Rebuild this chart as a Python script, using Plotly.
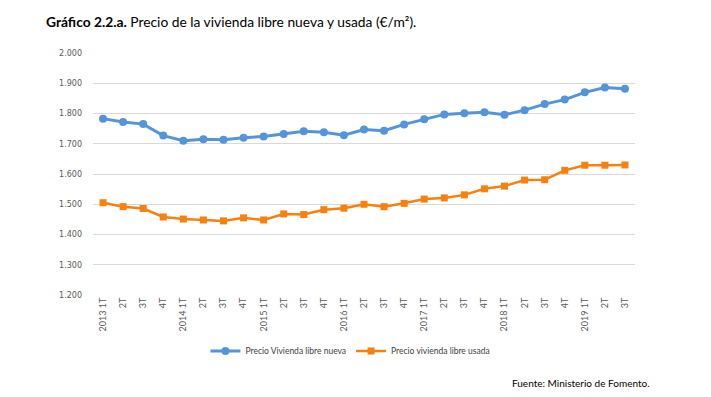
import plotly.graph_objects as go

categories = ["2013 1T", "2T", "3T", "4T",
              "2014 1T", "2T", "3T", "4T",
              "2015 1T", "2T", "3T", "4T",
              "2016 1T", "2T", "3T", "4T",
              "2017 1T", "2T", "3T", "4T",
              "2018 1T", "2T", "3T", "4T",
              "2019 1T", "2T", "3T"]

nueva = [1783, 1772, 1765, 1727, 1710, 1715, 1713, 1720, 1724, 1732, 1741, 1738, 1728, 1747,
         1743, 1764, 1781, 1797, 1801, 1804, 1796, 1811, 1831, 1846, 1870, 1886, 1882]

usada = [1505, 1492, 1486, 1458, 1451, 1448, 1445, 1455, 1448, 1468, 1466, 1482, 1487, 1500,
         1492, 1503, 1517, 1521, 1531, 1551, 1560, 1580, 1581, 1612, 1629, 1629, 1630]

y_ticks = [1200, 1300, 1400, 1500, 1600, 1700, 1800, 1900, 2000]

xs = list(range(len(categories)))

fig = go.Figure()
fig.add_trace(go.Scatter(
    x=xs, y=nueva, name="Precio Vivienda libre nueva", mode="lines+markers",
    line=dict(color="#5494DA", width=3),
    marker=dict(symbol="circle", size=8, color="#5494DA"),
))
fig.add_trace(go.Scatter(
    x=xs, y=usada, name="Precio vivienda libre usada", mode="lines+markers",
    line=dict(color="#F7800F", width=2.5),
    marker=dict(symbol="square", size=7, color="#F7800F"),
))

fig.update_layout(
    width=711, height=397,
    margin=dict(l=93, r=76, t=53, b=102),
    paper_bgcolor="white", plot_bgcolor="white",
    separators=",.",
    showlegend=True,
    legend=dict(orientation="h", x=0.475, xanchor="center", y=-0.231, yanchor="middle",
                font=dict(family="Lato", size=8.5, color="#404040"),
                itemwidth=30, tracegroupgap=0),
    font=dict(family="Lato", color="#595959"),
    annotations=[
        dict(text="<b>Gráfico 2.2.a.</b> Precio de la vivienda libre nueva y usada (€/m²).",
             xref="paper", yref="paper", x=-0.09, y=1.13, xanchor="left", yanchor="middle",
             showarrow=False, font=dict(family="Lato", size=13.8, color="#000000")),
        dict(text="Fuente: Ministerio de Fomento.",
             xref="paper", yref="paper", x=1.031, y=-0.364, xanchor="right", yanchor="middle",
             showarrow=False, font=dict(family="Lato", size=10, color="#000000")),
    ],
)

fig.update_xaxes(
    range=[-0.5, len(categories) - 0.5],
    tickmode="array", tickvals=xs, ticktext=categories, tickangle=-90,
    tickfont=dict(family="Lato", size=9, color="#595959"),
    showgrid=False, showline=False, zeroline=False, ticks="", automargin=False,
)
fig.update_yaxes(
    range=[1200, 2000], tickvals=y_ticks, tickformat=",.0f",
    tickfont=dict(family="DejaVu Sans", size=8, color="#595959"),
    showgrid=True, gridcolor="#D9D9D9", gridwidth=1, zeroline=False, showline=False,
    ticks="", ticklabelstandoff=10, automargin=False,
)

fig.write_html("out.html", config={"displayModeBar": False},
               post_script="document.body.style.margin='0';")
